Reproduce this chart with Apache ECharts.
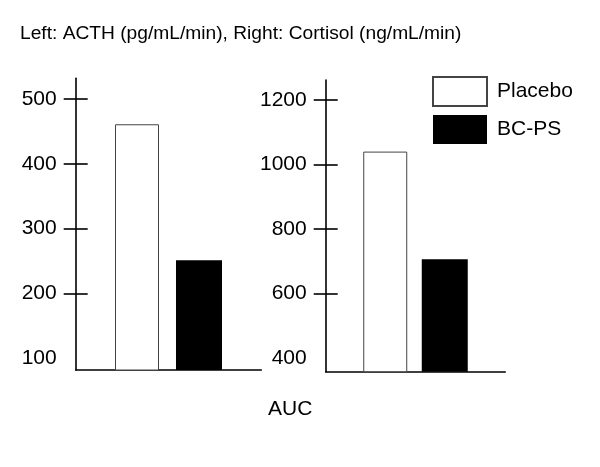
<!DOCTYPE html>
<html>
<head>
<meta charset="utf-8">
<script src="https://cdn.jsdelivr.net/npm/echarts@6/dist/echarts.min.js"></script>
<style>html,body{margin:0;padding:0;background:#fff}#c{width:600px;height:467px}</style>
</head>
<body>
<div id="c"></div>
<script>
var titleText = 'Left: ACTH (pg/mL/min), Right: Cortisol (ng/mL/min)';
var xLabel = 'AUC';
var groups = ['Placebo', 'BC-PS'];
var acthValues = [461, 251];
var cortisolValues = [1040, 706];
var acthLabels = [100, 200, 300, 400, 500];
var acthTicks = [200, 300, 400, 500];
var cortisolLabels = [400, 600, 800, 1000, 1200];
var cortisolTicks = [600, 800, 1000, 1200];

var FONT = '"Liberation Sans", Arial, sans-serif';
var chart = echarts.init(document.getElementById('c'), null, {renderer: 'canvas'});

function yPair(gridIndex, min, max, labels, ticks) {
  var line = {show: true, lineStyle: {color: '#000', width: 1.6}};
  return [
    {
      type: 'value', gridIndex: gridIndex, min: min, max: max, position: 'left',
      axisLine: line,
      splitLine: {show: false},
      axisTick: {show: true, inside: false, length: 12, customValues: ticks, lineStyle: {color: '#000', width: 1.6}},
      axisLabel: {show: true, margin: 19, fontSize: 21, color: '#000', fontFamily: FONT, customValues: labels,
        formatter: function (v) { return String(v); }}
    },
    {
      type: 'value', gridIndex: gridIndex, min: min, max: max, position: 'left', offset: 0,
      axisLine: {show: false},
      splitLine: {show: false},
      axisTick: {show: true, inside: true, length: 12, customValues: ticks, lineStyle: {color: '#000', width: 1.6}},
      axisLabel: {show: false}
    }
  ];
}

function xAx(gridIndex) {
  return {
    type: 'category', gridIndex: gridIndex, data: [xLabel],
    axisLine: {show: true, lineStyle: {color: '#000', width: 1.6}},
    axisTick: {show: false}, axisLabel: {show: false}, splitLine: {show: false}
  };
}

var placeboStyle = {color: '#fff', borderColor: '#444', borderWidth: 1};
var bcStyle = {color: '#000', borderColor: '#000', borderWidth: 0};

var yAxes = yPair(0, 81.5, 532, acthLabels, acthTicks).concat(yPair(1, 357.5, 1262, cortisolLabels, cortisolTicks));

chart.setOption({
  animation: false,
  backgroundColor: '#fff',
  textStyle: {fontFamily: FONT},
  title: [
    {text: titleText, left: 15, top: 19, textStyle: {fontSize: 19.2, fontWeight: 'normal', color: '#000', fontFamily: FONT}},
    {text: xLabel, left: 263, top: 394, textStyle: {fontSize: 21, fontWeight: 'normal', color: '#000', fontFamily: FONT}}
  ],
  legend: {
    orient: 'vertical', left: 427, top: 71,
    itemWidth: 54, itemHeight: 29, itemGap: 8,
    icon: 'rect',
    data: groups,
    textStyle: {fontSize: 21, color: '#000', fontFamily: FONT, padding: [0, 0, 0, 5]}
  },
  grid: [
    {left: 75.7, top: 78.3, width: 185.6, height: 291.7},
    {left: 325.7, top: 80, width: 179.6, height: 291.7}
  ],
  xAxis: [xAx(0), xAx(1)],
  yAxis: yAxes,
  series: [
    {name: groups[0], type: 'bar', xAxisIndex: 0, yAxisIndex: 0, data: [acthValues[0]], barWidth: 44, barGap: '38.6%', itemStyle: placeboStyle},
    {name: groups[1], type: 'bar', xAxisIndex: 0, yAxisIndex: 0, data: [acthValues[1]], barWidth: 46, barGap: '38.6%', itemStyle: bcStyle},
    {name: groups[0], type: 'bar', xAxisIndex: 1, yAxisIndex: 2, data: [cortisolValues[0]], barWidth: 44, barGap: '33%', itemStyle: placeboStyle},
    {name: groups[1], type: 'bar', xAxisIndex: 1, yAxisIndex: 2, data: [cortisolValues[1]], barWidth: 46, barGap: '33%', itemStyle: bcStyle}
  ]
});
</script>
</body>
</html>
